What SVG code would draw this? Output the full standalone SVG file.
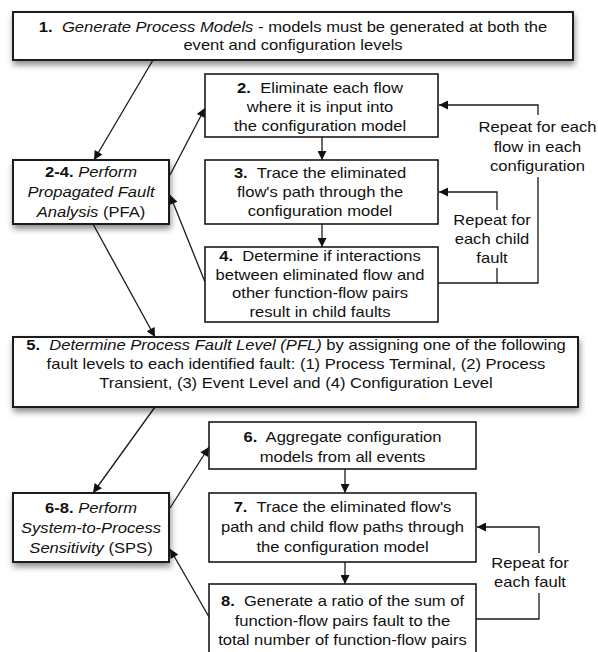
<svg xmlns="http://www.w3.org/2000/svg" width="598" height="652" viewBox="0 0 598 652">
<defs>
<style>
text{font-family:"Liberation Sans",Arial,Helvetica,sans-serif;font-size:14px;fill:#111;text-anchor:middle}
.b{font-weight:bold}
.i{font-style:italic}
.box{fill:#fff;stroke:#1a1a1a;stroke-width:1.6}
.big{fill:#fff;stroke:#1a1a1a;stroke-width:2}
.ln{fill:none;stroke:#1a1a1a;stroke-width:1.3}
</style>
<filter id="sh" x="-10%" y="-20%" width="125%" height="170%">
<feGaussianBlur in="SourceAlpha" stdDeviation="3"/>
<feOffset dx="1" dy="4"/>
<feComponentTransfer><feFuncA type="linear" slope="0.45"/></feComponentTransfer>
<feMerge><feMergeNode/><feMergeNode in="SourceGraphic"/></feMerge>
</filter>
<marker id="ah" viewBox="0 0 10 10" refX="10" refY="5" markerWidth="11" markerHeight="9" orient="auto" markerUnits="userSpaceOnUse">
<path d="M0,0 L10,5 L0,10 z" fill="#111"/>
</marker>
</defs>
<rect width="598" height="652" fill="#fff"/>

<g id="connectors">
<path class="ln" d="M153,60 L94,160" marker-end="url(#ah)"/>
<path class="ln" d="M170,175 L205,108" marker-end="url(#ah)"/>
<path class="ln" d="M205,282 L170,195" marker-end="url(#ah)"/>
<path class="ln" d="M93,224 L155,337" marker-end="url(#ah)"/>
<path class="ln" d="M155,407 L93,493" marker-end="url(#ah)"/>
<path class="ln" d="M170,508 L209,447" marker-end="url(#ah)"/>
<path class="ln" d="M209,617 L170,549" marker-end="url(#ah)"/>
<path class="ln" d="M322,137 V160" marker-end="url(#ah)"/>
<path class="ln" d="M322,224 V247" marker-end="url(#ah)"/>
<path class="ln" d="M345,469 V493" marker-end="url(#ah)"/>
<path class="ln" d="M345,562 V584" marker-end="url(#ah)"/>
<path class="ln" d="M438,283 H538 V177"/>
<path class="ln" d="M538,115 V105 H439" marker-end="url(#ah)"/>
<path class="ln" d="M497,283 V268"/>
<path class="ln" d="M497,210 V192 H439" marker-end="url(#ah)"/>
<path class="ln" d="M476,619 H539 V593"/>
<path class="ln" d="M539,553 V527 H477" marker-end="url(#ah)"/>
<text transform="translate(537.5,132) scale(1.185,1)">Repeat for each</text>
<text transform="translate(537.5,152) scale(1.185,1)">flow in each</text>
<text transform="translate(537.5,171) scale(1.185,1)">configuration</text>
<text transform="translate(492,225) scale(1.185,1)">Repeat for</text>
<text transform="translate(492,244) scale(1.185,1)">each child</text>
<text transform="translate(492,263) scale(1.185,1)">fault</text>
<text transform="translate(530,568) scale(1.185,1)">Repeat for</text>
<text transform="translate(530,587) scale(1.185,1)">each fault</text>
</g>

<g id="n1">
<rect class="big" x="13" y="12" width="560" height="48" filter="url(#sh)"/>
<text transform="translate(293,32) scale(1.185,1)"><tspan class="b">1.</tspan>&#160; <tspan class="i">Generate Process Models</tspan> - models must be generated at both the</text>
<text transform="translate(293,50) scale(1.185,1)">event and configuration levels</text>
</g>

<g id="n24">
<rect class="big" x="13" y="160" width="156" height="64" filter="url(#sh)"/>
<text transform="translate(91,177) scale(1.185,1)"><tspan class="b">2-4.</tspan> <tspan class="i">Perform</tspan></text>
<text transform="translate(91,197) scale(1.185,1)"><tspan class="i">Propagated Fault</tspan></text>
<text transform="translate(91,217) scale(1.185,1)"><tspan class="i">Analysis</tspan> (PFA)</text>
</g>

<g id="n2">
<rect class="box" x="205" y="74" width="233" height="63"/>
<text transform="translate(320,93) scale(1.185,1)"><tspan class="b">2.</tspan>&#160; Eliminate each flow</text>
<text transform="translate(320,112) scale(1.185,1)">where it is input into</text>
<text transform="translate(320,131) scale(1.185,1)">the configuration model</text>
</g>

<g id="n3">
<rect class="box" x="205" y="160" width="233" height="64"/>
<text transform="translate(320,178) scale(1.185,1)"><tspan class="b">3.</tspan>&#160; Trace the eliminated</text>
<text transform="translate(320,197) scale(1.185,1)">flow's path through the</text>
<text transform="translate(320,216) scale(1.185,1)">configuration model</text>
</g>

<g id="n4">
<rect class="box" x="205" y="247" width="233" height="75"/>
<text transform="translate(320,261) scale(1.185,1)"><tspan class="b">4.</tspan>&#160; Determine if interactions</text>
<text transform="translate(320,279.5) scale(1.185,1)">between eliminated flow and</text>
<text transform="translate(320,298) scale(1.185,1)">other function-flow pairs</text>
<text transform="translate(320,316.5) scale(1.185,1)">result in child faults</text>
</g>

<g id="n5">
<rect class="big" x="13" y="337" width="565" height="70" filter="url(#sh)"/>
<text transform="translate(296,350) scale(1.185,1)"><tspan class="b">5.</tspan>&#160; <tspan class="i">Determine Process Fault Level (PFL)</tspan> by assigning one of the following</text>
<text transform="translate(296,369) scale(1.185,1)">fault levels to each identified fault: (1) Process Terminal, (2) Process</text>
<text transform="translate(296,388) scale(1.185,1)">Transient, (3) Event Level and (4) Configuration Level</text>
</g>

<g id="n68">
<rect class="big" x="13" y="493" width="156" height="69" filter="url(#sh)"/>
<text transform="translate(91,513) scale(1.185,1)"><tspan class="b">6-8.</tspan> <tspan class="i">Perform</tspan></text>
<text transform="translate(91,533) scale(1.185,1)"><tspan class="i">System-to-Process</tspan></text>
<text transform="translate(91,553) scale(1.185,1)"><tspan class="i">Sensitivity</tspan> (SPS)</text>
</g>

<g id="n6">
<rect class="box" x="209" y="422" width="267" height="47"/>
<text transform="translate(342.5,442) scale(1.185,1)"><tspan class="b">6.</tspan>&#160; Aggregate configuration</text>
<text transform="translate(342.5,462) scale(1.185,1)">models from all events</text>
</g>

<g id="n7">
<rect class="box" x="209" y="493" width="267" height="69"/>
<text transform="translate(342.5,512) scale(1.185,1)"><tspan class="b">7.</tspan>&#160; Trace the eliminated flow's</text>
<text transform="translate(342.5,532) scale(1.185,1)">path and child flow paths through</text>
<text transform="translate(342.5,552) scale(1.185,1)">the configuration model</text>
</g>

<g id="n8">
<rect class="box" x="209" y="584" width="267" height="75"/>
<text transform="translate(342.5,606) scale(1.185,1)"><tspan class="b">8.</tspan>&#160; Generate a ratio of the sum of</text>
<text transform="translate(342.5,626) scale(1.185,1)">function-flow pairs fault to the</text>
<text transform="translate(342.5,645) scale(1.185,1)">total number of function-flow pairs</text>
</g>
</svg>
